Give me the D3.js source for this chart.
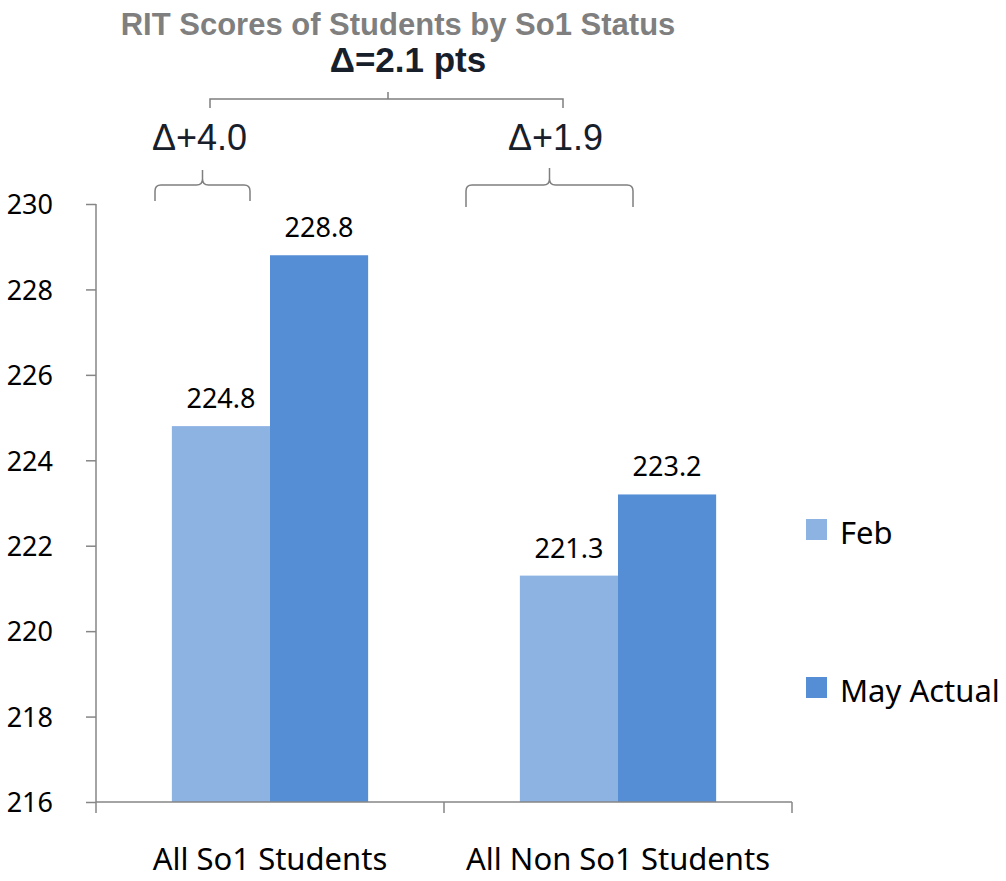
<!DOCTYPE html>
<html>
<head>
<meta charset="utf-8">
<script src="https://cdn.jsdelivr.net/npm/d3@7"></script>
<style>
  body { margin: 0; background: #fff; }
  svg text { font-family: "Noto Sans", "Open Sans", sans-serif; }
</style>
</head>
<body>
<svg id="chart" width="1006" height="881"></svg>
<script>
// ---- data ----
var categories = ["All So1 Students", "All Non So1 Students"];
var seriesNames = ["Feb", "May Actual"];
var febValues = [224.8, 221.3];
var mayValues = [228.8, 223.2];
var yTicks = [216, 218, 220, 222, 224, 226, 228, 230];
var colors = ["#8db3e2", "#558ed5"];

var titleText = "RIT Scores of Students by So1 Status";
var totalDelta = "\u0394=2.1 pts";
var groupDeltas = ["\u0394+4.0", "\u0394+1.9"];

var svg = d3.select("#chart");

var plot = { left: 96, right: 792, top: 204, bottom: 802 };

var x = d3.scaleBand()
  .domain(categories)
  .range([plot.left, plot.right])
  .padding(0);

var y = d3.scaleLinear()
  .domain([216, 230])
  .range([plot.bottom, plot.top]);

var barW = x.bandwidth() * 0.282;

// rows built from the arrays
var rows = categories.map(function(c, i) {
  return { cat: c, values: [febValues[i], mayValues[i]] };
});

// ---- bars ----
var groups = svg.append("g").selectAll("g.grp")
  .data(rows)
  .enter().append("g")
    .attr("class", "grp")
    .attr("transform", function(d) { return "translate(" + (x(d.cat) + x.bandwidth() / 2) + ",0)"; });

groups.selectAll("rect")
  .data(function(d) { return d.values; })
  .enter().append("rect")
    .attr("x", function(d, i) { return (i - 1) * barW; })
    .attr("y", function(d) { return y(d); })
    .attr("width", barW)
    .attr("height", function(d) { return y(216) - y(d); })
    .attr("fill", function(d, i) { return colors[i]; });

groups.selectAll("text.val")
  .data(function(d) { return d.values; })
  .enter().append("text")
    .attr("class", "val")
    .attr("x", function(d, i) { return (i - 0.5) * barW; })
    .attr("y", function(d) { return y(d) - 18; })
    .attr("text-anchor", "middle")
    .style("font-size", "27px")
    .attr("fill", "#000")
    .text(function(d) { return d3.format(".1f")(d); });

// ---- axes ----
var axisColor = "#868686";

var yAxis = svg.append("g")
  .attr("transform", "translate(" + plot.left + ",0)")
  .call(d3.axisLeft(y).tickValues(yTicks).tickSize(10).tickPadding(33).tickFormat(d3.format("d")));
yAxis.selectAll("path, line").attr("stroke", axisColor).attr("stroke-width", 1.5);
yAxis.select("path").attr("d", "M0," + plot.top + "V" + plot.bottom);
yAxis.selectAll("text")
  .style("font-size", "27px")
  .style("font-family", "'Noto Sans', sans-serif")
  .attr("fill", "#000")
  .attr("dy", "0.36em");

var xAxisG = svg.append("g")
  .attr("transform", "translate(0," + plot.bottom + ")");
xAxisG.append("line")
  .attr("x1", plot.left).attr("x2", plot.right)
  .attr("stroke", axisColor).attr("stroke-width", 1.5);
xAxisG.selectAll("line.sep")
  .data(d3.range(categories.length + 1))
  .enter().append("line")
    .attr("class", "sep")
    .attr("x1", function(i) { return plot.left + i * x.bandwidth(); })
    .attr("x2", function(i) { return plot.left + i * x.bandwidth(); })
    .attr("y1", 0).attr("y2", 11)
    .attr("stroke", axisColor).attr("stroke-width", 1.5);
xAxisG.selectAll("text.cat")
  .data(categories)
  .enter().append("text")
    .attr("class", "cat")
    .attr("x", function(d) { return x(d) + x.bandwidth() / 2; })
    .attr("y", 68)
    .attr("text-anchor", "middle")
    .style("font-size", "31px")
    .attr("fill", "#000")
    .text(function(d) { return d; });

// ---- legend ----
var legend = svg.append("g").selectAll("g.leg")
  .data(seriesNames)
  .enter().append("g")
    .attr("class", "leg")
    .attr("transform", function(d, i) { return "translate(806," + (519 + i * 158) + ")"; });
legend.append("rect")
  .attr("width", 21).attr("height", 21)
  .attr("fill", function(d, i) { return colors[i]; });
legend.append("text")
  .attr("x", 34).attr("y", 25)
  .style("font-size", "31px")
  .attr("fill", "#000")
  .text(function(d) { return d; });

// ---- title + delta annotations ----
svg.append("text")
  .attr("x", 398).attr("y", 35)
  .attr("text-anchor", "middle")
  .style("font-family", "'Liberation Sans', Arial, sans-serif")
  .style("font-weight", "bold")
  .style("font-size", "31px")
  .attr("fill", "#7f7f7f")
  .text(titleText);

svg.append("text")
  .attr("x", 408).attr("y", 72)
  .attr("text-anchor", "middle")
  .style("font-family", "'Liberation Sans', Arial, sans-serif")
  .style("font-weight", "bold")
  .style("font-size", "35px")
  .attr("fill", "#17202a")
  .text(totalDelta);

// curly-ish bracket: ends drop down, middle notch points up
function brace(x0, x1, yLine, yEnd, yTip) {
  var xc = (x0 + x1) / 2, r = 6;
  return "M" + x0 + "," + yEnd +
    "V" + (yLine + r) +
    "Q" + x0 + "," + yLine + " " + (x0 + r) + "," + yLine +
    "H" + (xc - r) +
    "Q" + xc + "," + yLine + " " + xc + "," + (yLine - r) +
    "V" + yTip +
    "M" + xc + "," + (yLine - r) +
    "Q" + xc + "," + yLine + " " + (xc + r) + "," + yLine +
    "H" + (x1 - r) +
    "Q" + x1 + "," + yLine + " " + x1 + "," + (yLine + r) +
    "V" + yEnd;
}

var bracketColor = "#7f7f7f";
// big bracket over both groups
svg.append("path")
  .attr("d", "M210,108V99H563V108M388,99V92")
  .attr("fill", "none").attr("stroke", bracketColor).attr("stroke-width", 1.5);

var braces = [
  { x0: 155, x1: 250, yEnd: 201, tip: 170 },
  { x0: 466, x1: 633, yEnd: 207, tip: 168 }
];
svg.selectAll("path.brace")
  .data(braces)
  .enter().append("path")
    .attr("class", "brace")
    .attr("d", function(b) { return brace(b.x0, b.x1, 185, b.yEnd, b.tip); })
    .attr("fill", "none").attr("stroke", bracketColor).attr("stroke-width", 1.5);

svg.selectAll("text.gd")
  .data(groupDeltas)
  .enter().append("text")
    .attr("class", "gd")
    .attr("x", function(d, i) { return (braces[i].x0 + braces[i].x1) / 2 - 3 + i * 9; })
    .attr("y", 150)
    .attr("text-anchor", "middle")
    .style("font-family", "'Liberation Sans', Arial, sans-serif")
    .style("font-size", "36px")
    .attr("fill", "#17202a")
    .text(function(d) { return d; });
</script>
</body>
</html>
